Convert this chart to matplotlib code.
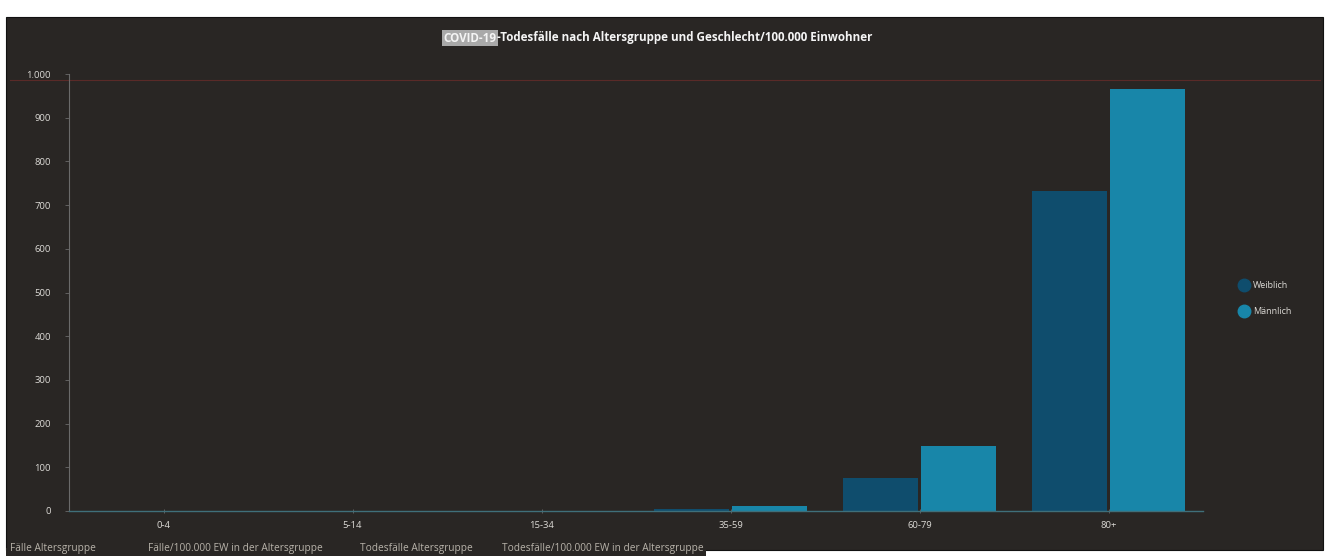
import matplotlib
matplotlib.use("Agg")
import matplotlib.pyplot as plt
from matplotlib.patches import Rectangle
from matplotlib.lines import Line2D
import numpy as np

# Age groups and deaths per 100,000 inhabitants
age_groups = ["0-4", "5-14", "15-34", "35-59", "60-79", "80+"]
weiblich = [0.1, 0.05, 0.4, 4, 76, 733]
maennlich = [0.1, 0.05, 0.8, 12, 149, 965]
series_names = ["Weiblich", "Männlich"]
y_ticks = [0, 100, 200, 300, 400, 500, 600, 700, 800, 900, 1000]
y_tick_labels = ["0", "100", "200", "300", "400", "500", "600", "700", "800", "900", "1.000"]
tabs = ["Fälle Altersgruppe", "Fälle/100.000 EW in der Altersgruppe",
        "Todesfälle Altersgruppe", "Todesfälle/100.000 EW in der Altersgruppe"]
title_hl = "COVID-19"
title_rest = "-Todesfälle nach Altersgruppe und Geschlecht/100.000 Einwohner"

W, H = 1333, 556
BG = "#292624"
C_W = "#0f4d6d"
C_M = "#1886a9"
TXT = "#dcdad6"
AXC = "#6a6a6a"
FONT = ["Open Sans", "DejaVu Sans"]

fig = plt.figure(figsize=(W / 100, H / 100), dpi=100, facecolor="white")

def px(x, y):
    return x / W, 1 - y / H

# dark panel
fig.patches.append(Rectangle(px(6, 550), 1317 / W, 533 / H, transform=fig.transFigure,
                             facecolor=BG, edgecolor="#111111", lw=0.8, zorder=-5))
fig.patches.append(Rectangle(px(6, 556), 700 / W, 8 / H, transform=fig.transFigure,
                             facecolor=BG, edgecolor="none", zorder=-5))
# red separator line below the top value
fig.lines.append(Line2D([10 / W, 1320 / W], [1 - 80 / H] * 2, transform=fig.transFigure,
                        color="#5a2a28", lw=0.8, zorder=-4))

l, b = px(69, 511)
r, t = px(1203, 74)
ax = fig.add_axes([l, b, r - l, t - b])
ax.set_zorder(2)
ax.set_facecolor("none")

x = np.arange(len(age_groups))
bw = 0.397
ax.bar(x - bw / 2 - 0.01, weiblich, width=bw, color=C_W, label=series_names[0], zorder=2)
ax.bar(x + bw / 2 + 0.01, maennlich, width=bw, color=C_M, label=series_names[1], zorder=2)

ax.set_xlim(-0.5, len(age_groups) - 0.5)
ax.set_ylim(0, 1000)
ax.set_yticks(y_ticks)
ax.set_yticklabels(y_tick_labels)
ax.set_xticks(x)
ax.set_xticklabels(age_groups)
for s in ["top", "right"]:
    ax.spines[s].set_visible(False)
ax.spines["left"].set_color(AXC)
ax.spines["left"].set_linewidth(0.8)
ax.spines["bottom"].set_color("#3f6f7a")
ax.spines["bottom"].set_linewidth(1.0)
ax.tick_params(axis="y", colors=AXC, labelcolor=TXT, labelsize=6.8, length=3, width=0.6, pad=10)
ax.tick_params(axis="x", colors=AXC, labelcolor=TXT, labelsize=6.8, length=3, width=0.6,
               direction="inout", pad=6)
for lab in ax.get_xticklabels() + ax.get_yticklabels():
    lab.set_family(FONT)

# legend
for i, (name, c) in enumerate(zip(series_names, [C_W, C_M])):
    yy = 285 + 26 * i
    fig.lines.append(Line2D([1244 / W], [1 - yy / H], transform=fig.transFigure, marker="o",
                            markersize=9, color=c, linestyle="none"))
    fig.text(1253 / W, 1 - yy / H, name, color=TXT, fontsize=6.5, va="center", ha="left",
             family=FONT)

# title with highlighted leading word
TS = 8.4
title_y = 1 - 38 / H
fig.canvas.draw()
renderer = fig.canvas.get_renderer()
tmp_hl = fig.text(0, 0, title_hl, fontsize=TS, weight="bold", family=FONT)
tmp_rest = fig.text(0, 0, title_rest, fontsize=TS, weight="bold", family=FONT)
w_hl = tmp_hl.get_window_extent(renderer).width
w_rest = tmp_rest.get_window_extent(renderer).width
tmp_hl.remove()
tmp_rest.remove()
x0 = 658 - (w_hl + w_rest) / 2
fig.text(x0 / W, title_y, title_hl, fontsize=TS, weight="bold", family=FONT,
         color="#f4f4f4", va="center", ha="left",
         bbox=dict(boxstyle="square,pad=0.12", facecolor="#a9a9a9", edgecolor="none"))
fig.text((x0 + w_hl) / W, title_y, title_rest, fontsize=TS, weight="bold", family=FONT,
         color="#f4f4f4", va="center", ha="left")

# bottom tabs
tab_x = [10, 148, 360, 502]
for tx, label in zip(tab_x, tabs):
    fig.text(tx / W, 1 - 549 / H, label, fontsize=7.3, color="#b8b3aa", va="center",
             ha="left", family=FONT)

fig.savefig("out.png", dpi=100, facecolor="white")
